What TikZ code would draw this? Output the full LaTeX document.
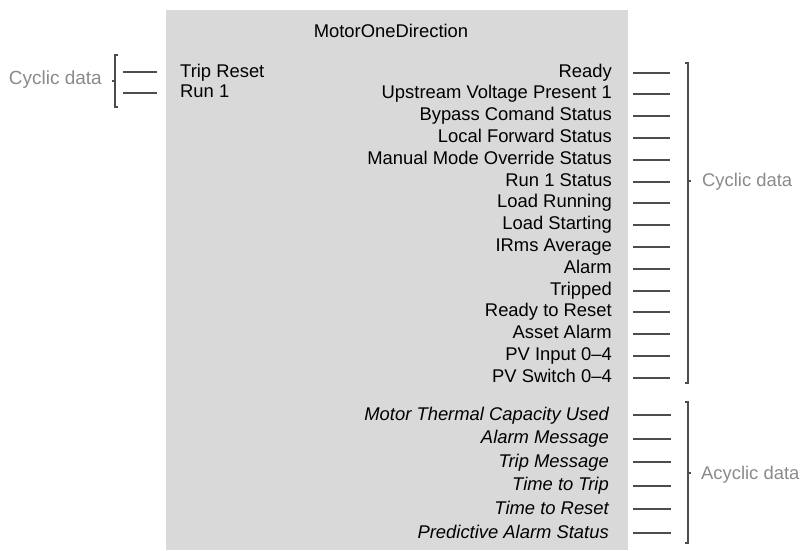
\documentclass[tikz,border=0pt]{standalone}
\usepackage{fontspec}
\setmainfont{Liberation Sans}
\usepackage{xcolor}
\usetikzlibrary{calc}

\definecolor{blockgray}{HTML}{D9D9D9}
\definecolor{pingray}{HTML}{4D4D4D}
\definecolor{labelgray}{HTML}{8A8A8A}

\begin{document}
\begin{tikzpicture}[x=1pt,y=-1pt,
    txt/.style={inner sep=0pt,font=\fontsize{18.4}{22}\selectfont},
    sig/.style={txt,anchor=base east},
    grp/.style={txt,text=labelgray},
    pin/.style={pingray,line width=2pt},
    brk/.style={pingray,line width=1.6pt}]
  \useasboundingbox (0,0) rectangle (801,550);
  % --- Baustein ---
  \fill[blockgray] (166,10) rectangle (628,550);
  \node[txt,anchor=base] (title) at (391,37.5) {MotorOneDirection};
  % --- Eingaenge ---
  \foreach \t [count=\i from 0] in {Trip Reset,Run 1} {
    \node[txt,anchor=base west] (in-\i) at (180,{77+20.5*\i}) {\t};
    \coordinate (ia-\i) at (123,{round(72+20.5*\i)});
    \coordinate (ib-\i) at (157,{round(72+20.5*\i)});
    \draw[pin] (ia-\i) -- (ib-\i);
  }
  \draw[brk] (118,55) -- (115,55) -- (115,107) -- (118,107);
  \draw[brk] (115,81) -- (112,81);
  \node[grp,anchor=base east,font=\fontsize{19}{22}\selectfont] (cyc-in) at (102,84) {Cyclic data};
  % --- Ausgaenge, zyklisch ---
  \foreach \t [count=\i from 0] in {Ready,Upstream Voltage Present 1,Bypass Comand Status,Local Forward Status,Manual Mode Override Status,Run 1 Status,Load Running,Load Starting,IRms Average,Alarm,Tripped,Ready to Reset,Asset Alarm,PV Input 0--4,PV Switch 0--4} {
    \node[sig] (out-\i) at (612,{77+21.8*\i}) {\t};
    \coordinate (oa-\i) at (633,{round(72.5+21.8*\i)});
    \coordinate (ob-\i) at (670,{round(72.5+21.8*\i)});
    \draw[pin] (oa-\i) -- (ob-\i);
  }
  \draw[brk] (685,63) -- (688,63) -- (688,383) -- (685,383);
  \draw[brk] (688,181) -- (691,181);
  \node[grp,anchor=base west] (cyc-out) at (702,186) {Cyclic data};
  % --- Ausgaenge, azyklisch ---
  \foreach \t [count=\i from 0] in {Motor Thermal Capacity Used,Alarm Message,Trip Message,Time to Trip,Time to Reset,Predictive Alarm Status} {
    \node[sig,font=\fontsize{18.4}{22}\selectfont\itshape] (acy-\i) at (609,{420+23.6*\i}) {\t};
    \coordinate (aa-\i) at (633,{round(415+23.5*\i)});
    \coordinate (ab-\i) at (671,{round(415+23.5*\i)});
    \draw[pin] (aa-\i) -- (ab-\i);
  }
  \draw[brk] (685,402) -- (688,402) -- (688,543) -- (685,543);
  \draw[brk] (688,473) -- (691,473);
  \node[grp,anchor=base west] (acyc-out) at (701,479) {Acyclic data};
\end{tikzpicture}
\end{document}
